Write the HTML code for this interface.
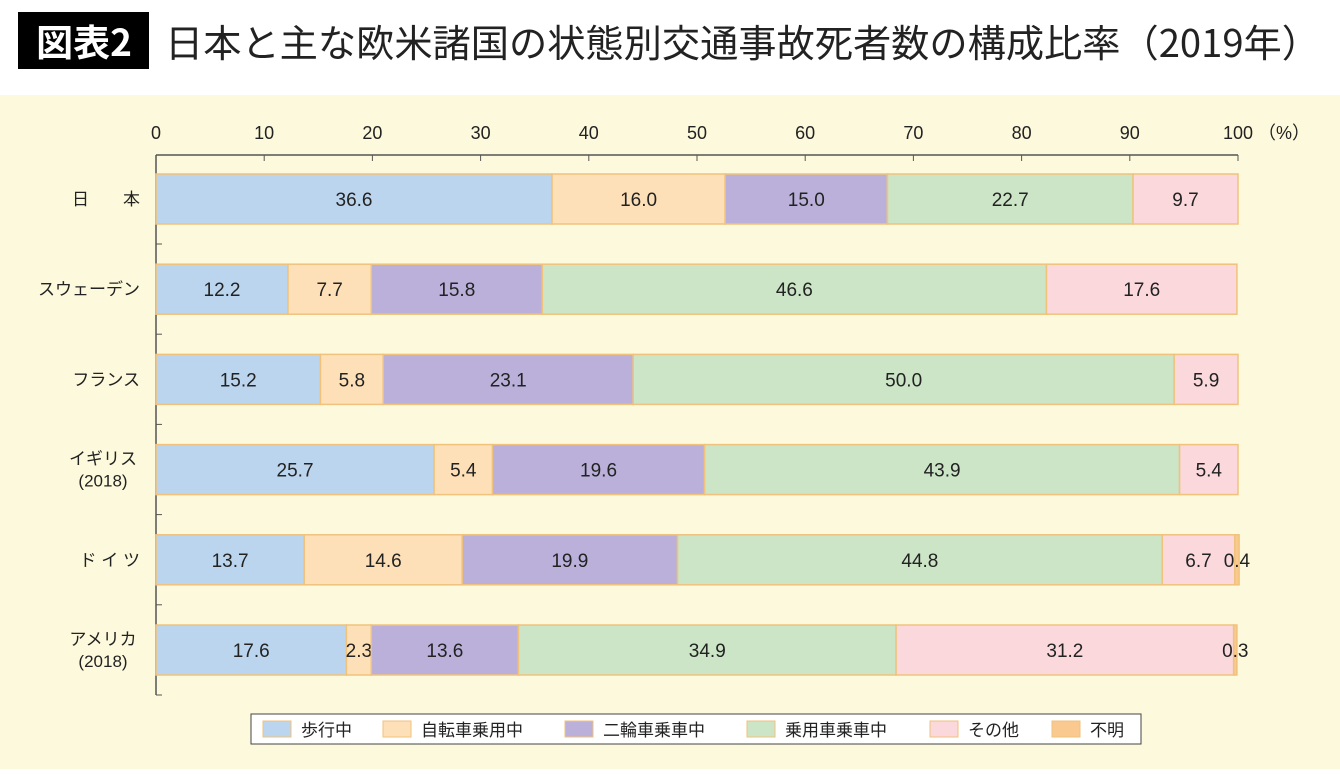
<!DOCTYPE html>
<html><head><meta charset="utf-8"><style>
body{margin:0;width:1340px;height:769px;overflow:hidden;background:#fff;font-family:"Liberation Sans","Noto Sans CJK JP",sans-serif}
</style></head><body>
<svg id="c" width="1340" height="769" xmlns="http://www.w3.org/2000/svg">
<rect x="0" y="95" width="1340" height="674" fill="#fdf9dc"/>
<rect x="18" y="12" width="131" height="57" fill="#000"/>
<text x="84" y="56" fill="#fff" font-size="37" font-weight="bold" text-anchor="middle" font-family="'Noto Sans CJK JP',sans-serif">図表2</text>
<text x="165" y="57" fill="#222" font-size="38" textLength="1155" lengthAdjust="spacingAndGlyphs" font-family="'Noto Sans CJK JP',sans-serif">日本と主な欧米諸国の状態別交通事故死者数の構成比率（2019年）</text>
<g id="plot"></g>
</svg>
<script>
const categories=["日　　本","スウェーデン","フランス","イギリス\n(2018)","ド  イ  ツ","アメリカ\n(2018)"];
const seriesNames=["歩行中","自転車乗用中","二輪車乗車中","乗用車乗車中","その他","不明"];
const walking=[36.6,12.2,15.2,25.7,13.7,17.6];
const bicycle=[16.0,7.7,5.8,5.4,14.6,2.3];
const motorcycle=[15.0,15.8,23.1,19.6,19.9,13.6];
const car=[22.7,46.6,50.0,43.9,44.8,34.9];
const other=[9.7,17.6,5.9,5.4,6.7,31.2];
const unknown=[0,0,0,0,0.4,0.3];
const ticks=[0,10,20,30,40,50,60,70,80,90,100];
const series=[walking,bicycle,motorcycle,car,other,unknown];
const colors=["#bcd5ee","#fde0b8","#bab0d9","#cbe5c6","#fad8db","#f9c98f"];
const NS="http://www.w3.org/2000/svg";
const g=document.getElementById('plot');
const x0=156,x1=1238,yTop=155;
const xs=v=>x0+(x1-x0)*v/100;
const rowC=i=>199+i*90.2;
function el(t,a){const e=document.createElementNS(NS,t);for(const k in a)e.setAttribute(k,a[k]);g.appendChild(e);return e;}
let ax=el('line',{x1:x0,y1:yTop,x2:x1,y2:yTop,stroke:'#555','stroke-width':1.5});


let ay=el('line',{x1:x0,y1:yTop,x2:x0,y2:695,stroke:'#555','stroke-width':1.5});


ticks.forEach(t=>{
 const tk=el('line',{x1:xs(t),y1:yTop,x2:xs(t),y2:yTop+6,stroke:'#555'});
 
 
 const tx=el('text',{x:xs(t),y:139,'font-size':18,'text-anchor':'middle',fill:'#222'});
 tx.textContent=t;
 
 
});
const pu=el('text',{x:1284,y:139,'font-size':18,'text-anchor':'middle',fill:'#222'});
pu.textContent='（%）';


categories.forEach((c,i)=>{
 const yc=rowC(i);
 const yt=el('line',{x1:x0,y1:yc+45,x2:x0+6,y2:yc+45,stroke:'#555'});
 
 
 const lines=c.split('\n');
 lines.forEach((ln,j)=>{
  const two=lines.length>1;
  const t=el('text',{x:two?103:140,y:yc+6+(j-(lines.length-1)/2)*22,'font-size':17,'text-anchor':two?'middle':'end',fill:'#222','xml:space':'preserve'});
  t.textContent=ln;
  
  
 });
 let cum=0;
 series.forEach((s,k)=>{
  const v=s[i];if(!v)return;
  const r=el('rect',{x:xs(cum),y:yc-25,width:xs(cum+v)-xs(cum),height:50,fill:colors[k],stroke:'#f0c27c','stroke-width':1.5});
  
  
  const t=el('text',{x:(xs(cum)+xs(cum+v))/2,y:yc+7,'font-size':19,'text-anchor':'middle',fill:'#222'});
  t.textContent=v.toFixed(1);
  
  
  cum+=v;
 });
});
const lb=el('rect',{x:251,y:714,width:890,height:30,fill:'#fff',stroke:'#444'});


const lx=[263,383,565,747,930,1052];
seriesNames.forEach((n,k)=>{
 const sw=el('rect',{x:lx[k],y:721,width:28,height:16,fill:colors[k],stroke:'#f0c27c'});
 
 
 const t=el('text',{x:lx[k]+38,y:736,'font-size':17,fill:'#222'});
 t.textContent=n;
 
 
});
</script>
</body></html>
